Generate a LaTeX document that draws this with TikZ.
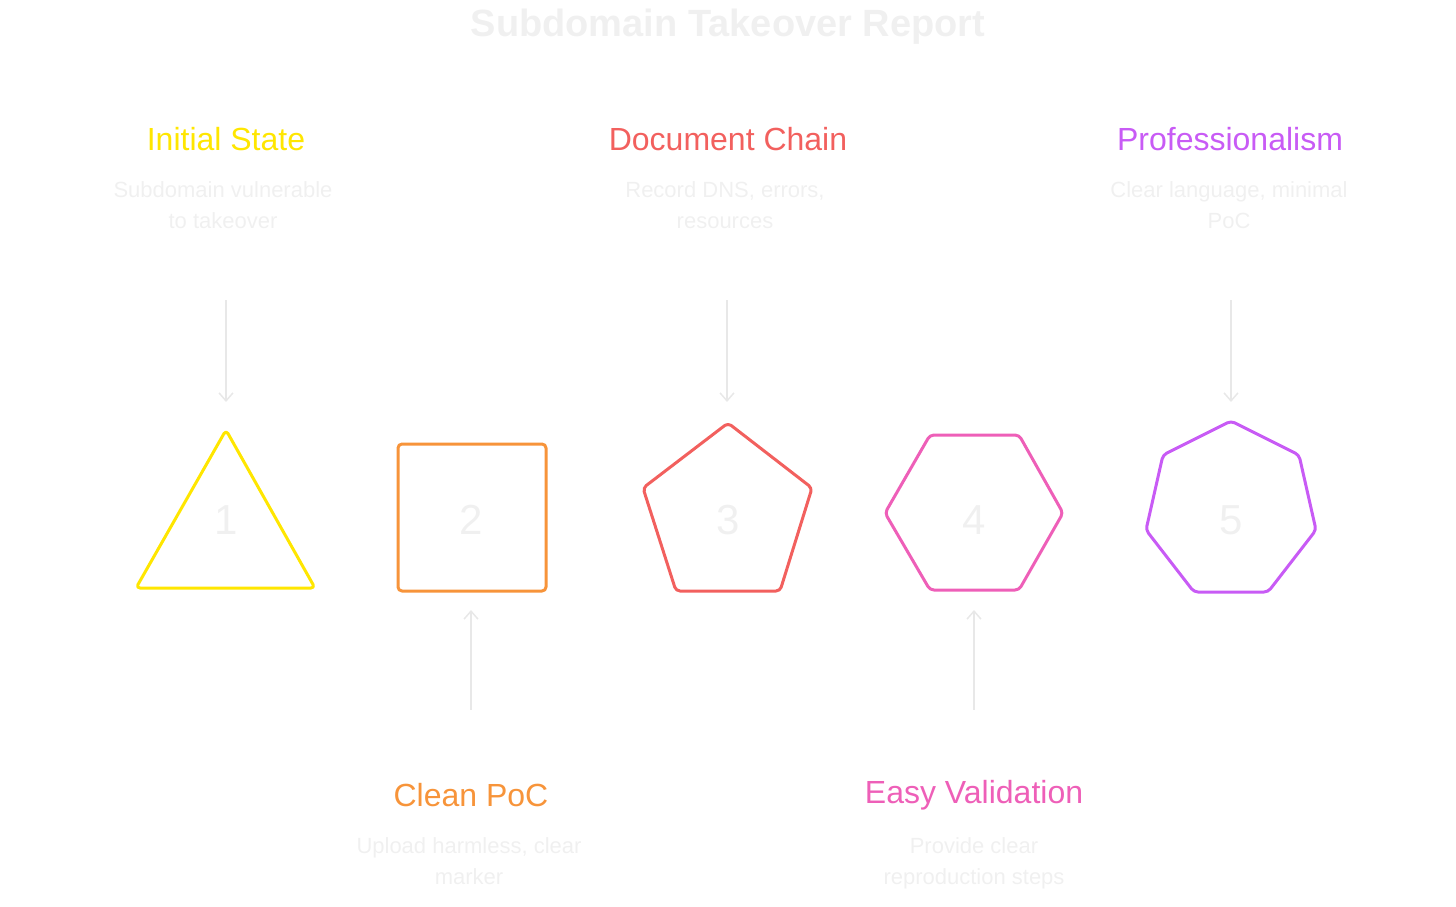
\documentclass[tikz,border=0pt]{standalone}
\usepackage{fontspec}
\setmainfont{Liberation Sans}
\usetikzlibrary{arrows.meta}
\definecolor{cy}{HTML}{FFE600}
\definecolor{co}{HTML}{F7943A}
\definecolor{cr}{HTML}{F2605E}
\definecolor{cp}{HTML}{EE5FB8}
\definecolor{cv}{HTML}{C85BF5}
\definecolor{faint}{HTML}{F0F0F0}
\definecolor{arr}{HTML}{E8E8E8}
\tikzset{
 shp/.style={line width=3pt,rounded corners=4pt,line join=round},
 head/.style={font=\fontsize{32}{36}\selectfont,anchor=center},
 desc/.style={font=\fontsize{22}{31}\selectfont,text=faint,align=center,anchor=north},
 num/.style={font=\fontsize{42}{46}\selectfont,text=faint},
 conn/.style={draw=arr,line width=1.5pt,-{Straight Barb[length=8pt,width=14pt]}}
}
\begin{document}
\begin{tikzpicture}[x=1pt,y=-1pt]
\useasboundingbox (0,0) rectangle (1456,906);
\node[font=\fontsize{38}{42}\selectfont\bfseries,text=faint] (title) at (728,27) {Subdomain Takeover Report};
% shapes
\draw[shp,cy] (226,430) -- (315,588) -- (136,588) -- cycle;
\draw[shp,co] (398,444) rectangle (546,591);
\draw[shp,cr] (728,423) -- (812,488) -- (780,591) -- (676,591) -- (643,488) -- cycle;
\draw[shp,cp] (930,435) -- (1019,435) -- (1063,513) -- (1019,590) -- (930,590) -- (885,513) -- cycle;
\draw[shp,cv] (1231,421) -- (1299,455) -- (1316,530) -- (1268,592) -- (1194,592) -- (1146,530) -- (1163,455) -- cycle;
\node[num] (n1) at (226,520) {1};
\node[num] (n2) at (471,520) {2};
\node[num] (n3) at (728,520) {3};
\node[num] (n4) at (974,520) {4};
\node[num] (n5) at (1231,520) {5};
% labels
\node[head,text=cy] (h1) at (226,139) {Initial State};
\node[desc] (d1) at (223,178) {Subdomain vulnerable\\to takeover};
\node[head,text=cr] (h3) at (728,139) {Document Chain};
\node[desc] (d3) at (725,178) {Record DNS, errors,\\resources};
\node[head,text=cv] (h5) at (1230,139) {Professionalism};
\node[desc] (d5) at (1229,178) {Clear language, minimal\\PoC};
\node[head,text=co] (h2) at (471,795) {Clean PoC};
\node[desc] (d2) at (469,834) {Upload harmless, clear\\marker};
\node[head,text=cp] (h4) at (974,795) {Easy Validation};
\node[desc] (d4) at (974,834) {Provide clear\\reproduction steps};
% arrows
\coordinate (a1s) at (226,300); \coordinate (a1e) at (226,402);
\coordinate (a3s) at (727,300); \coordinate (a3e) at (727,402);
\coordinate (a5s) at (1231,300); \coordinate (a5e) at (1231,402);
\coordinate (a2s) at (471,710); \coordinate (a2e) at (471,610);
\coordinate (a4s) at (974,710); \coordinate (a4e) at (974,610);
\draw[conn] (a1s) -- (a1e);
\draw[conn] (a3s) -- (a3e);
\draw[conn] (a5s) -- (a5e);
\draw[conn] (a2s) -- (a2e);
\draw[conn] (a4s) -- (a4e);
\end{tikzpicture}
\end{document}
